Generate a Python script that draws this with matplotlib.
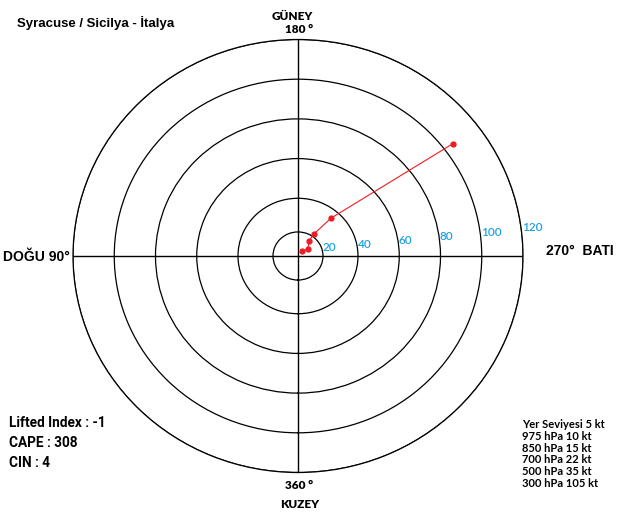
import matplotlib.pyplot as plt
import numpy as np

# hodograf verisi (Syracuse)
levels = ['Yer Seviyesi', '975 hPa', '850 hPa', '700 hPa', '500 hPa', '300 hPa']
speeds = [5, 10, 15, 22, 35, 105]              # kt
directions = [218, 234, 215, 215, 220, 233]    # derece
rings = [20, 40, 60, 80, 100, 120]

indices_text = ['Lifted Index : -1', 'CAPE : 308', 'CIN : 4']

W, H = 617, 514


def fx(x):
    return x / W


def fy(y):
    return 1 - y / H


# radial scale of the original drawing is not linear near the centre
def fwd(v):
    v = np.asarray(v, dtype=float)
    return np.where(v < 20, v * 1.25,
                    np.where(v < 40, 25 + (v - 20) * 1.75, 60 + (v - 40) * 2.0625))


def inv(r):
    r = np.asarray(r, dtype=float)
    return np.where(r < 25, r / 1.25,
                    np.where(r < 60, 20 + (r - 25) / 1.75, 40 + (r - 60) / 2.0625))


fig = plt.figure(figsize=(W / 100, H / 100), dpi=100)
ax = fig.add_axes([fx(73), fy(472.5), 450 / W, 433 / H], projection='polar')
ax.set_aspect('auto')

ax.set_theta_zero_location('S')
ax.set_theta_direction(-1)
ax.set_rscale('function', functions=(fwd, inv))
ax.set_rlim(0, 120)

ax.set_xticks(np.radians([0, 90, 180, 270]))
ax.set_xticklabels([])
ax.set_yticks(rings)
ax.set_yticklabels([])
ax.xaxis.grid(True, color='black', linewidth=1.0)
ax.yaxis.grid(True, color='black', linewidth=0.9)
ax.spines['polar'].set_color('black')
ax.spines['polar'].set_linewidth(0.9)

for v in rings:
    ax.text(np.radians(264), v, str(v), ha='left', va='bottom',
            color='#1ba1e2', fontsize=8.5, fontweight='semibold', family='Lato')

# hodograf
ax.plot(np.radians(directions), speeds, color='#ed1c24', linewidth=0.8,
        marker='o', markersize=3.5, zorder=5)

# yazilar
fig.text(fx(17), fy(26.7), 'Syracuse / Sicilya - İtalya', fontsize=9.5,
         fontweight='bold', family='Liberation Sans', va='baseline')

fig.text(fx(292), fy(20), 'GÜNEY', fontsize=8.5, fontweight='heavy',
         family='Lato', ha='center', va='baseline')
fig.text(fx(299.5), fy(33.3), '180 °', fontsize=8.5, fontweight='heavy',
         family='Lato', ha='center', va='baseline')
fig.text(fx(299.5), fy(489.3), '360 °', fontsize=8.5, fontweight='heavy',
         family='Lato', ha='center', va='baseline')
fig.text(fx(300), fy(508.3), 'KUZEY', fontsize=8.5, fontweight='heavy',
         family='Lato', ha='center', va='baseline')

fig.text(fx(546), fy(255), '270°  BATI', fontsize=10, fontweight='bold',
         family='Liberation Sans', va='baseline')
fig.text(fx(3), fy(260.7), 'DOĞU 90°', fontsize=10, fontweight='bold',
         family='Liberation Sans', va='baseline')

for i, t in enumerate(indices_text):
    fig.text(fx(9), fy(426.7 + i * 20), t, fontsize=9.8, fontweight='bold',
             family='Roboto', va='baseline')

for i, (lev, spd) in enumerate(zip(levels, speeds)):
    fig.text(fx(522), fy(428 + i * 11.8), f'{lev} {spd} kt', fontsize=8,
             fontweight='bold', family='Lato', va='baseline')

fig.savefig('out.png', dpi=100)
